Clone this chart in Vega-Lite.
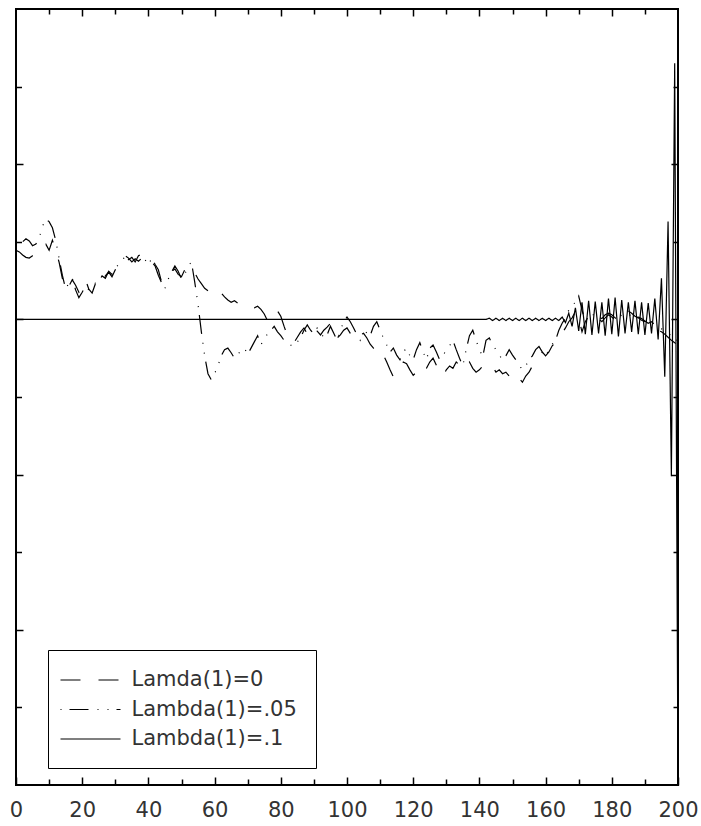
{
  "$schema": "https://vega.github.io/schema/vega-lite/v6.json",
  "autosize": {"type": "none"},
  "padding": {"left": 16, "top": 9, "right": 23, "bottom": 41},
  "width": 662,
  "height": 776,
  "background": "white",
  "config": {
    "font": "DejaVu Sans",
    "view": {"stroke": "black", "strokeWidth": 2},
    "axis": {"domain": false, "grid": false, "tickColor": "black", "tickWidth": 1.5, "title": null, "labelOverlap": false, "labelFlush": false}
  },
  "data": {"values": [
    {"t":0,"a":0.89,"b":1.07,"c":0},{"t":1,"a":0.87,"b":1.05,"c":0},{"t":2,"a":0.83,"b":1.00,"c":0},{"t":3,"a":0.80,"b":1.04,"c":0},{"t":4,"a":0.79,"b":1.01,"c":0},
    {"t":5,"a":0.82,"b":0.95,"c":0},{"t":6,"a":0.84,"b":0.97,"c":0},{"t":7,"a":0.87,"b":1.05,"c":0},{"t":8,"a":0.95,"b":1.20,"c":0},{"t":9,"a":0.97,"b":1.29,"c":0},
    {"t":10,"a":0.89,"b":1.26,"c":0},{"t":11,"a":1.02,"b":1.18,"c":0},{"t":12,"a":0.89,"b":1.02,"c":0},{"t":13,"a":0.74,"b":0.79,"c":0},{"t":14,"a":0.53,"b":0.57,"c":0},
    {"t":15,"a":0.38,"b":0.39,"c":0},{"t":16,"a":0.43,"b":0.47,"c":0},{"t":17,"a":0.51,"b":0.53,"c":0},{"t":18,"a":0.44,"b":0.38,"c":0},{"t":19,"a":0.35,"b":0.28,"c":0},
    {"t":20,"a":0.42,"b":0.35,"c":0},{"t":21,"a":0.51,"b":0.43,"c":0},{"t":22,"a":0.39,"b":0.38,"c":0},{"t":23,"a":0.34,"b":0.42,"c":0},{"t":24,"a":0.46,"b":0.47,"c":0},
    {"t":25,"a":0.52,"b":0.49,"c":0},{"t":26,"a":0.47,"b":0.56,"c":0},{"t":27,"a":0.56,"b":0.53,"c":0},{"t":28,"a":0.61,"b":0.62,"c":0},{"t":29,"a":0.55,"b":0.58,"c":0},
    {"t":30,"a":0.64,"b":0.66,"c":0},{"t":31,"a":0.66,"b":0.71,"c":0},{"t":32,"a":0.74,"b":0.74,"c":0},{"t":33,"a":0.82,"b":0.83,"c":0},{"t":34,"a":0.79,"b":0.77,"c":0},
    {"t":35,"a":0.74,"b":0.80,"c":0},{"t":36,"a":0.78,"b":0.74,"c":0},{"t":37,"a":0.75,"b":0.82,"c":0},{"t":38,"a":0.79,"b":0.84,"c":0},{"t":39,"a":0.74,"b":0.77,"c":0},
    {"t":40,"a":0.70,"b":0.70,"c":0},{"t":41,"a":0.74,"b":0.79,"c":0},{"t":42,"a":0.69,"b":0.71,"c":0},{"t":43,"a":0.57,"b":0.64,"c":0},{"t":44,"a":0.47,"b":0.48,"c":0},
    {"t":45,"a":0.51,"b":0.40,"c":0},{"t":46,"a":0.58,"b":0.52,"c":0},{"t":47,"a":0.62,"b":0.61,"c":0},{"t":48,"a":0.65,"b":0.69,"c":0},{"t":49,"a":0.58,"b":0.62,"c":0},
    {"t":50,"a":0.55,"b":0.52,"c":0},{"t":51,"a":0.64,"b":0.58,"c":0},{"t":52,"a":0.69,"b":0.69,"c":0},{"t":53,"a":0.66,"b":0.74,"c":0},{"t":54,"a":0.60,"b":0.48,"c":0},
    {"t":55,"a":0.52,"b":0.19,"c":0},{"t":56,"a":0.46,"b":-0.16,"c":0},{"t":57,"a":0.40,"b":-0.47,"c":0},{"t":58,"a":0.37,"b":-0.70,"c":0},{"t":59,"a":0.34,"b":-0.78,"c":0},
    {"t":60,"a":0.37,"b":-0.70,"c":0},{"t":61,"a":0.39,"b":-0.60,"c":0},{"t":62,"a":0.34,"b":-0.47,"c":0},{"t":63,"a":0.29,"b":-0.39,"c":0},{"t":64,"a":0.25,"b":-0.37,"c":0},
    {"t":65,"a":0.22,"b":-0.43,"c":0},{"t":66,"a":0.24,"b":-0.50,"c":0},{"t":67,"a":0.21,"b":-0.46,"c":0},{"t":68,"a":0.22,"b":-0.39,"c":0},{"t":69,"a":0.20,"b":-0.37,"c":0},
    {"t":70,"a":0.19,"b":-0.45,"c":0},{"t":71,"a":0.16,"b":-0.37,"c":0},{"t":72,"a":0.15,"b":-0.29,"c":0},{"t":73,"a":0.17,"b":-0.21,"c":0},{"t":74,"a":0.13,"b":-0.33,"c":0},
    {"t":75,"a":0.07,"b":-0.24,"c":0},{"t":76,"a":-0.02,"b":-0.19,"c":0},{"t":77,"a":0.04,"b":-0.14,"c":0},{"t":78,"a":0.11,"b":-0.09,"c":0},{"t":79,"a":0.11,"b":-0.16,"c":0},
    {"t":80,"a":0.04,"b":-0.21,"c":0},{"t":81,"a":-0.09,"b":-0.27,"c":0},{"t":82,"a":-0.21,"b":-0.29,"c":0},{"t":83,"a":-0.27,"b":-0.33,"c":0},{"t":84,"a":-0.30,"b":-0.35,"c":0},
    {"t":85,"a":-0.23,"b":-0.29,"c":0},{"t":86,"a":-0.16,"b":-0.23,"c":0},{"t":87,"a":-0.11,"b":-0.14,"c":0},{"t":88,"a":-0.19,"b":-0.07,"c":0},{"t":89,"a":-0.14,"b":-0.14,"c":0},
    {"t":90,"a":-0.09,"b":-0.19,"c":0},{"t":91,"a":-0.15,"b":-0.11,"c":0},{"t":92,"a":-0.20,"b":-0.16,"c":0},{"t":93,"a":-0.14,"b":-0.24,"c":0},{"t":94,"a":-0.10,"b":-0.20,"c":0},
    {"t":95,"a":-0.05,"b":-0.09,"c":0},{"t":96,"a":-0.16,"b":-0.18,"c":0},{"t":97,"a":-0.24,"b":-0.27,"c":0},{"t":98,"a":-0.20,"b":-0.14,"c":0},{"t":99,"a":-0.14,"b":-0.03,"c":0},
    {"t":100,"a":-0.11,"b":0.03,"c":0},{"t":101,"a":-0.18,"b":-0.03,"c":0},{"t":102,"a":-0.24,"b":-0.11,"c":0},{"t":103,"a":-0.27,"b":-0.20,"c":0},{"t":104,"a":-0.20,"b":-0.27,"c":0},
    {"t":105,"a":-0.18,"b":-0.21,"c":0},{"t":106,"a":-0.24,"b":-0.16,"c":0},{"t":107,"a":-0.32,"b":-0.21,"c":0},{"t":108,"a":-0.37,"b":-0.09,"c":0},{"t":109,"a":-0.42,"b":-0.03,"c":0},
    {"t":110,"a":-0.39,"b":-0.14,"c":0},{"t":111,"a":-0.46,"b":-0.24,"c":0},{"t":112,"a":-0.55,"b":-0.33,"c":0},{"t":113,"a":-0.65,"b":-0.42,"c":0},{"t":114,"a":-0.74,"b":-0.37,"c":0},
    {"t":115,"a":-0.68,"b":-0.46,"c":0},{"t":116,"a":-0.63,"b":-0.52,"c":0},{"t":117,"a":-0.55,"b":-0.42,"c":0},{"t":118,"a":-0.57,"b":-0.37,"c":0},{"t":119,"a":-0.65,"b":-0.47,"c":0},
    {"t":120,"a":-0.72,"b":-0.52,"c":0},{"t":121,"a":-0.68,"b":-0.39,"c":0},{"t":122,"a":-0.60,"b":-0.30,"c":0},{"t":123,"a":-0.65,"b":-0.42,"c":0},{"t":124,"a":-0.63,"b":-0.52,"c":0},
    {"t":125,"a":-0.55,"b":-0.37,"c":0},{"t":126,"a":-0.50,"b":-0.33,"c":0},{"t":127,"a":-0.59,"b":-0.42,"c":0},{"t":128,"a":-0.68,"b":-0.52,"c":0},{"t":129,"a":-0.73,"b":-0.47,"c":0},
    {"t":130,"a":-0.65,"b":-0.39,"c":0},{"t":131,"a":-0.60,"b":-0.34,"c":0},{"t":132,"a":-0.63,"b":-0.27,"c":0},{"t":133,"a":-0.55,"b":-0.39,"c":0},{"t":134,"a":-0.59,"b":-0.50,"c":0},
    {"t":135,"a":-0.65,"b":-0.60,"c":0},{"t":136,"a":-0.60,"b":-0.39,"c":0},{"t":137,"a":-0.55,"b":-0.21,"c":0},{"t":138,"a":-0.63,"b":-0.14,"c":0},{"t":139,"a":-0.68,"b":-0.27,"c":0},
    {"t":140,"a":-0.65,"b":-0.39,"c":0},{"t":141,"a":-0.60,"b":-0.48,"c":0},{"t":142,"a":-0.63,"b":-0.27,"c":0},{"t":143,"a":-0.65,"b":-0.24,"c":0.015},{"t":144,"a":-0.61,"b":-0.33,"c":-0.015},
    {"t":145,"a":-0.68,"b":-0.39,"c":0.015},{"t":146,"a":-0.65,"b":-0.46,"c":-0.015},{"t":147,"a":-0.70,"b":-0.52,"c":0.015},{"t":148,"a":-0.68,"b":-0.47,"c":-0.015},{"t":149,"a":-0.73,"b":-0.39,"c":0.015},
    {"t":150,"a":-0.78,"b":-0.46,"c":-0.015},{"t":151,"a":-0.82,"b":-0.52,"c":0.015},{"t":152,"a":-0.76,"b":-0.59,"c":-0.015},{"t":153,"a":-0.81,"b":-0.65,"c":0.015},{"t":154,"a":-0.73,"b":-0.60,"c":-0.015},
    {"t":155,"a":-0.68,"b":-0.52,"c":0.015},{"t":156,"a":-0.60,"b":-0.47,"c":-0.015},{"t":157,"a":-0.54,"b":-0.39,"c":0.015},{"t":158,"a":-0.47,"b":-0.35,"c":-0.015},{"t":159,"a":-0.42,"b":-0.42,"c":0.015},
    {"t":160,"a":-0.47,"b":-0.47,"c":-0.015},{"t":161,"a":-0.42,"b":-0.39,"c":0.015},{"t":162,"a":-0.34,"b":-0.32,"c":-0.015},{"t":163,"a":-0.30,"b":-0.27,"c":0.015},{"t":164,"a":-0.24,"b":-0.14,"c":-0.015},
    {"t":165,"a":-0.18,"b":-0.05,"c":0.03},{"t":166,"a":-0.11,"b":0.02,"c":-0.04},{"t":167,"a":-0.03,"b":0.12,"c":0.08},{"t":168,"a":0.02,"b":0.20,"c":-0.09},{"t":169,"a":0.10,"b":0.21,"c":0.15},
    {"t":170,"a":0.02,"b":0.30,"c":-0.15},{"t":171,"a":-0.16,"b":0.12,"c":0.22},{"t":172,"a":-0.03,"b":-0.03,"c":-0.19},{"t":173,"a":0.04,"b":0.02,"c":0.24},{"t":174,"a":0.10,"b":0.07,"c":-0.20},
    {"t":175,"a":0.07,"b":0.04,"c":0.23},{"t":176,"a":0.03,"b":0.01,"c":-0.18},{"t":177,"a":0.01,"b":-0.03,"c":0.22},{"t":178,"a":0.06,"b":0.02,"c":-0.21},{"t":179,"a":0.08,"b":0.06,"c":0.27},
    {"t":180,"a":0.06,"b":0.03,"c":-0.19},{"t":181,"a":0.02,"b":-0.01,"c":0.28},{"t":182,"a":-0.01,"b":0.02,"c":-0.22},{"t":183,"a":0.03,"b":0.06,"c":0.25},{"t":184,"a":0.11,"b":0.08,"c":-0.18},
    {"t":185,"a":0.11,"b":0.07,"c":0.22},{"t":186,"a":0.08,"b":0.04,"c":-0.16},{"t":187,"a":0.04,"b":0.02,"c":0.24},{"t":188,"a":0.02,"b":0.03,"c":-0.19},{"t":189,"a":-0.01,"b":0.01,"c":0.22},
    {"t":190,"a":-0.03,"b":-0.02,"c":-0.20},{"t":191,"a":-0.07,"b":-0.05,"c":0.21},{"t":192,"a":-0.09,"b":-0.03,"c":-0.18},{"t":193,"a":-0.11,"b":-0.07,"c":0.27},{"t":194,"a":-0.14,"b":-0.10,"c":-0.26},
    {"t":195,"a":-0.16,"b":-0.12,"c":0.53},{"t":196,"a":-0.19,"b":-0.15,"c":-0.74},{"t":197,"a":-0.23,"b":-0.18,"c":1.26},{"t":198,"a":-0.27,"b":-0.21,"c":-2.02},{"t":199,"a":-0.30,"b":-0.24,"c":3.30},
    {"t":200,"a":-0.34,"b":-0.28,"c":-6.0}
  ]},
  "transform": [{"fold": ["a", "b", "c"], "as": ["series", "v"]}],
  "layer": [
    {
      "mark": {"type": "line", "color": "black", "strokeWidth": 1.2, "clip": true},
      "encoding": {
        "x": {"field": "t", "type": "quantitative", "scale": {"domain": [0, 200], "nice": false, "zero": false},
              "axis": {"orient": "bottom", "values": [0, 20, 40, 60, 80, 100, 120, 140, 160, 180, 200], "tickSize": 8, "offset": -8,
                       "labelPadding": 14, "labelFont": "DejaVu Sans", "labelFontSize": 21, "labelColor": "#333"}},
        "y": {"field": "v", "type": "quantitative", "scale": {"domain": [-6, 4], "nice": false, "zero": false},
              "axis": {"orient": "left", "values": [-4, -2, 0, 2], "tickSize": 7, "offset": -7, "labels": false}},
        "strokeDash": {"field": "series", "type": "nominal",
                       "scale": {"domain": ["a", "b", "c"], "range": [[20, 18], [1, 8, 19, 9, 1, 9], [1, 0]]},
                       "legend": {"title": null, "orient": "none", "legendX": 32, "legendY": 641,
                                  "symbolType": "M-3,0H3", "symbolSize": 400, "symbolStrokeWidth": 1.2, "symbolStrokeColor": "black",
                                  "symbolFillColor": "transparent", "symbolOffset": 12.5, "labelOffset": 30, "labelLimit": 400,
                                  "labelFont": "DejaVu Sans", "labelFontSize": 21, "labelColor": "#333",
                                  "rowPadding": 8.5, "padding": 19, "strokeColor": "black", "fillColor": "white",
                                  "labelExpr": "datum.label == 'a' ? 'Lamda(1)=0' : datum.label == 'b' ? 'Lambda(1)=.05' : 'Lambda(1)=.1'"}}
      }
    },
    {
      "mark": {"type": "line", "opacity": 0},
      "encoding": {
        "x": {"field": "t", "type": "quantitative", "scale": {"domain": [0, 200], "nice": false, "zero": false},
              "axis": {"orient": "bottom", "values": [10, 30, 50, 70, 90, 110, 130, 150, 170, 190], "tickSize": 6, "offset": -6, "labels": false}},
        "y": {"field": "v", "type": "quantitative", "scale": {"domain": [-6, 4], "nice": false, "zero": false},
              "axis": {"orient": "left", "values": [-5, -3, -1, 1, 3], "tickSize": 5.5, "offset": -5.5, "labels": false}}
      }
    },
    {
      "mark": {"type": "line", "opacity": 0},
      "encoding": {
        "x": {"field": "t", "type": "quantitative", "scale": {"domain": [0, 200], "nice": false, "zero": false},
              "axis": {"orient": "top", "values": [20, 40, 60, 80, 100, 120, 140, 160, 180], "tickSize": 7, "offset": -7, "labels": false}},
        "y": {"field": "v", "type": "quantitative", "scale": {"domain": [-6, 4], "nice": false, "zero": false},
              "axis": {"orient": "right", "values": [-4, -2, 0, 2], "tickSize": 7, "offset": -7, "labels": false}}
      }
    },
    {
      "mark": {"type": "line", "opacity": 0},
      "encoding": {
        "x": {"field": "t", "type": "quantitative", "scale": {"domain": [0, 200], "nice": false, "zero": false},
              "axis": {"orient": "top", "values": [10, 30, 50, 70, 90, 110, 130, 150, 170, 190], "tickSize": 5, "offset": -5, "labels": false}},
        "y": {"field": "v", "type": "quantitative", "scale": {"domain": [-6, 4], "nice": false, "zero": false},
              "axis": {"orient": "right", "values": [-5, -3, -1, 1, 3], "tickSize": 5, "offset": -5, "labels": false}}
      }
    }
  ],
  "resolve": {"axis": {"x": "independent", "y": "independent"}}
}
